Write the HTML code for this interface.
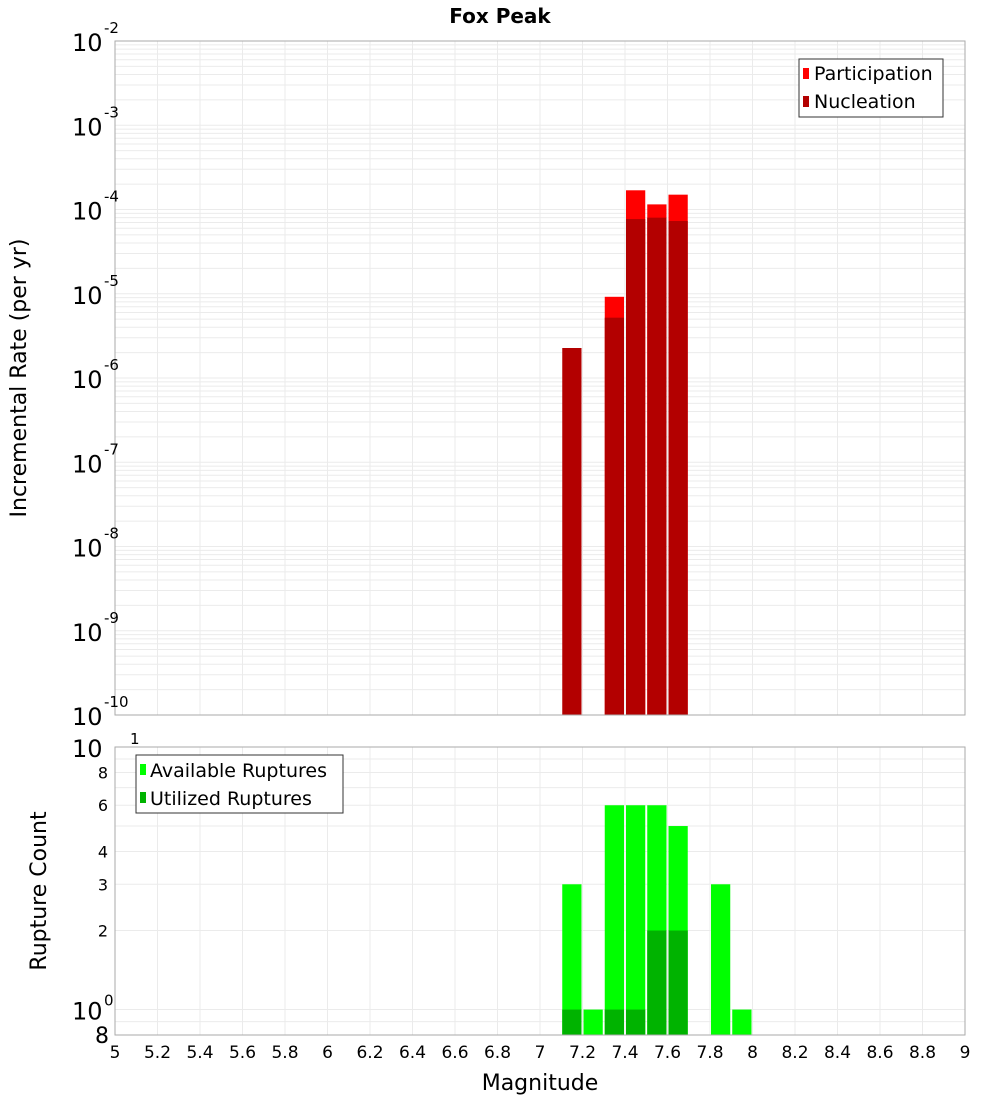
<!DOCTYPE html>
<html><head><meta charset="utf-8"><style>
body{margin:0;background:#fff;font-family:"Liberation Sans","DejaVu Sans",sans-serif}
svg text{font-family:"DejaVu Sans","Liberation Sans",sans-serif}
</style></head><body>
<svg id="c" width="1000" height="1100" xmlns="http://www.w3.org/2000/svg">
<text x="500" y="23" text-anchor="middle" font-size="20" font-weight="bold">Fox Peak</text>
<g id="g"></g>
</svg>
<script>
const bins=[7.1,7.2,7.3,7.4,7.5,7.6,7.8,7.9];
const participation=[null,null,9.2e-6,1.69e-4,1.15e-4,1.5e-4,null,null];
const nucleation=[2.27e-6,null,5.2e-6,7.7e-5,8e-5,7.3e-5,null,null];
const available=[3,1,6,6,6,5,3,1];
const utilized=[1,0,1,1,2,2,0,0];
const xTicks=[5,5.2,5.4,5.6,5.8,6,6.2,6.4,6.6,6.8,7,7.2,7.4,7.6,7.8,8,8.2,8.4,8.6,8.8,9];
const topExps=[-10,-9,-8,-7,-6,-5,-4,-3,-2];
const botTicks=[2,3,4,6,8];

const NS="http://www.w3.org/2000/svg",g=document.getElementById('g');
function el(t,a,p){const e=document.createElementNS(NS,t);for(const k in a)e.setAttribute(k,a[k]);(p||g).appendChild(e);return e;}
const L=115,R=965;
const X=v=>L+(v-5)/4*(R-L);
const T0=41,T1=715;
const YT=v=>T1-(Math.log10(v)+10)/8*(T1-T0);
const B0=747,B1=1035;
const YB=v=>B1-(Math.log10(v)-Math.log10(0.8))/(1-Math.log10(0.8))*(B1-B0);

// grids top
for(let e=-10;e<-2;e++)for(let m=1;m<10;m++){const y=YT(m*Math.pow(10,e));let l=el('line',{x1:L,x2:R,y1:y,y2:y,stroke:'#ebebeb','stroke-width':1});

}
// grids bottom
[0.9,1,2,3,4,5,6,7,8,9].forEach(v=>{const y=YB(v);let l=el('line',{x1:L,x2:R,y1:y,y2:y,stroke:'#ebebeb'});

});
xTicks.forEach(v=>{[[T0,T1],[B0,B1]].forEach(([a,b])=>{let l=el('line',{x1:X(v),x2:X(v),y1:a,y2:b,stroke:'#ebebeb'});

});});

const bw=(X(5.1)-X(5))-2;
bins.forEach((b,i)=>{const x=X(b)+1;
 if(participation[i]){let r=el('rect',{x:x,y:YT(participation[i]),width:bw,height:T1-YT(participation[i]),fill:'#ff0000'});
 
 }
 if(nucleation[i]){let r=el('rect',{x:x,y:YT(nucleation[i]),width:bw,height:T1-YT(nucleation[i]),fill:'#b30000'});
 
 }
 if(available[i]){let r=el('rect',{x:x,y:YB(available[i]),width:bw,height:B1-YB(available[i]),fill:'#00ff00'});
 
 }
 if(utilized[i]){let r=el('rect',{x:x,y:YB(utilized[i]),width:bw,height:B1-YB(utilized[i]),fill:'#00b300'});
 
 }
});
let f1=el('rect',{x:L,y:T0,width:R-L,height:T1-T0,fill:'none',stroke:'#aaa'});


let f2=el('rect',{x:L,y:B0,width:R-L,height:B1-B0,fill:'none',stroke:'#aaa'});



function lbl(x,y,txt,fs,anchor,name){const t=el('text',{x:x,y:y,'font-size':fs,'text-anchor':anchor||'start'});t.textContent=txt;

return t;}
topExps.forEach(e=>{const y=YT(Math.pow(10,e));lbl(72,y+10,'10',24,'start','y-tick-label');lbl(104,y-8,String(e),15,'start','y-tick-exp');});
lbl(72,YB(10)+10,'10',24,'start','y-tick-label');lbl(130,YB(10)-3,'1',15,'start','y-tick-exp');
lbl(72,YB(1)+10,'10',24,'start','y-tick-label');lbl(104,YB(1)-4,'0',15,'start','y-tick-exp');
lbl(95,B1+8,'8',22,'start','y-tick-label');
botTicks.forEach(v=>lbl(108,YB(v)+6,String(v),16,'end','y-tick-label'));
xTicks.forEach(v=>lbl(X(v),1058,String(v),17,'middle','x-tick-label'));
lbl(540,1090,'Magnitude',22,'middle','x-axis-title');
let yt=lbl(0,0,'Incremental Rate (per yr)',22,'middle','y-axis-title-top');yt.setAttribute('transform','translate(26,378) rotate(-90)');
let yb=lbl(0,0,'Rupture Count',22,'middle','y-axis-title-bottom');yb.setAttribute('transform','translate(46,891) rotate(-90)');

// legends
let lg1=el('g',{});
el('rect',{x:799,y:59,width:144,height:58,fill:'#fff',stroke:'#333'},lg1);
el('rect',{x:803,y:68,width:6,height:11,fill:'#ff0000'},lg1);
el('rect',{x:803,y:96,width:6,height:11,fill:'#b30000'},lg1);
let t1=el('text',{x:814,y:80,'font-size':19},lg1);t1.textContent='Participation';
let t2=el('text',{x:814,y:108,'font-size':19},lg1);t2.textContent='Nucleation';
let lg2=el('g',{});
el('rect',{x:136,y:755,width:207,height:58,fill:'#fff',stroke:'#333'},lg2);
el('rect',{x:140,y:764,width:6,height:11,fill:'#00ff00'},lg2);
el('rect',{x:140,y:792,width:6,height:11,fill:'#00b300'},lg2);
let t3=el('text',{x:150,y:777,'font-size':19},lg2);t3.textContent='Available Ruptures';
let t4=el('text',{x:150,y:805,'font-size':19},lg2);t4.textContent='Utilized Ruptures';
</script>
</body></html>
